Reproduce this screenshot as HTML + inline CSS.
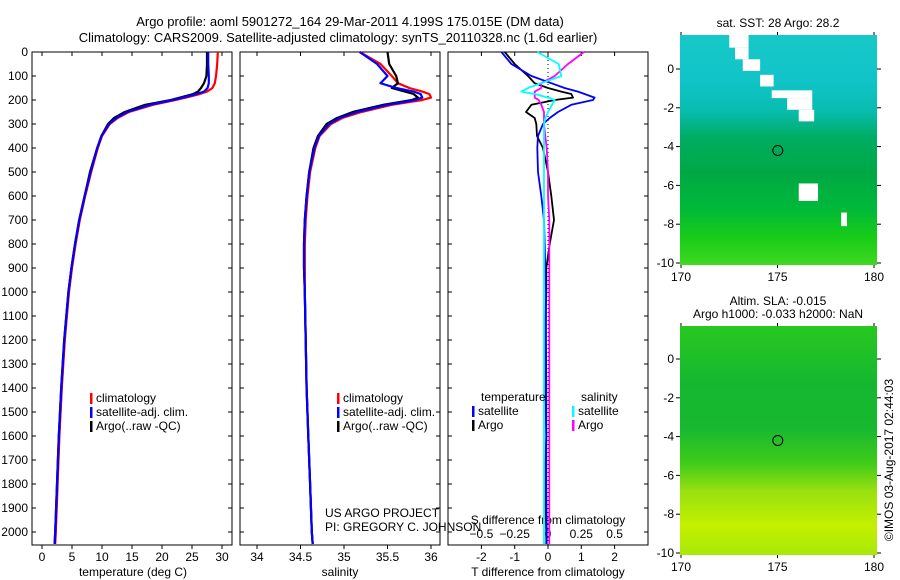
<!DOCTYPE html>
<html><head><meta charset="utf-8"><style>
body{margin:0;background:#fff}
svg{display:block;font-family:"Liberation Sans",sans-serif}
</style></head><body>
<svg id="c" width="900" height="580" xmlns="http://www.w3.org/2000/svg">
<defs>
<linearGradient id="sst" x1="0" y1="0" x2="0" y2="1">
<stop offset="0" stop-color="#18c8c8"/><stop offset="0.2" stop-color="#10c4c8"/><stop offset="0.33" stop-color="#08bcb0"/>
<stop offset="0.45" stop-color="#00ac60"/><stop offset="0.6" stop-color="#00a844"/><stop offset="0.75" stop-color="#00b83a"/><stop offset="0.88" stop-color="#18cc18"/><stop offset="1" stop-color="#40d820"/></linearGradient>
<linearGradient id="sla" x1="0" y1="0" x2="0" y2="1">
<stop offset="0" stop-color="#28c820"/><stop offset="0.25" stop-color="#14b830"/><stop offset="0.45" stop-color="#18b830"/><stop offset="0.6" stop-color="#40cc18"/>
<stop offset="0.72" stop-color="#98e010"/><stop offset="0.87" stop-color="#c4f000"/><stop offset="1" stop-color="#a8e808"/></linearGradient>
</defs>
<g font-size="13" text-anchor="middle" fill="#000">
<text x="350" y="26">Argo profile: aoml 5901272_164 29-Mar-2011 4.199S 175.015E (DM data)</text>
<text x="338" y="42">Climatology: CARS2009. Satellite-adjusted climatology: synTS_20110328.nc (1.6d earlier)</text>
</g>
<g id="plots"></g>
</svg>
<script>
// depth grid (m)
const depths=[0,50,100,130,150,165,175,190,200,220,250,275,300,350,400,500,600,700,800,900,1000,1200,1400,1600,1800,2000,2050];
// temperature (deg C)
const tempClim=[29.3,29.2,29.0,28.8,28.4,27.5,26.3,24,22.2,18.5,14.5,12.6,11.3,10.0,9.3,8.2,7.2,6.3,5.6,5.0,4.5,3.8,3.3,2.9,2.6,2.3,2.2];
const tempSat=[27.7,27.7,27.8,27.8,27.6,27.0,25.8,23.5,21.8,18.0,14.2,12.4,11.2,9.9,9.2,8.1,7.1,6.2,5.5,4.9,4.4,3.7,3.2,2.8,2.5,2.2,2.1];
const tempArgo=[27.5,27.5,27.4,27.0,26.5,26.0,25.2,23.0,21.5,17.2,13.8,12.0,11.0,9.9,9.2,8.0,7.1,6.2,5.5,4.9,4.4,3.7,3.2,2.8,2.5,2.2,2.1];
// salinity (PSU)
const salClim=[35.18,35.42,35.55,35.62,35.75,35.9,35.98,36.0,35.9,35.55,35.2,34.98,34.85,34.72,34.67,34.61,34.58,34.56,34.55,34.55,34.55,34.56,34.57,34.59,34.61,34.63,34.64];
const salSat=[35.18,35.38,35.5,35.42,35.6,35.8,35.88,35.9,35.82,35.5,35.15,34.95,34.83,34.71,34.66,34.6,34.57,34.55,34.54,34.54,34.55,34.56,34.57,34.59,34.61,34.63,34.64];
const salArgo=[35.5,35.52,35.6,35.62,35.55,35.7,35.8,35.85,35.78,35.45,35.1,34.92,34.8,34.7,34.65,34.6,34.57,34.55,34.54,34.54,34.55,34.56,34.57,34.59,34.61,34.63,34.64];
// differences from climatology
const tDiffSat=[-1.4,-1.1,-0.5,0.1,0.5,0.9,1.1,1.4,1.35,0.7,0.3,0.05,-0.15,-0.3,-0.32,-0.3,-0.2,-0.12,-0.1,-0.08,-0.06,-0.06,-0.05,-0.05,-0.05,-0.04,-0.04];
const tDiffArgo=[-1.3,-1.0,-0.6,-0.4,0.0,0.4,0.7,0.75,0.2,-0.5,-0.66,-0.4,-0.35,-0.33,-0.15,0.0,0.1,0.18,0.05,-0.05,-0.05,-0.1,-0.08,-0.05,-0.1,-0.05,-0.05];
const sDiffSat=[-0.08,0.08,0.1,-0.05,-0.15,-0.2,-0.1,0.0,0.05,0.03,0.0,-0.02,-0.03,-0.03,-0.03,-0.03,-0.03,-0.03,-0.03,-0.03,-0.03,-0.03,-0.03,-0.03,-0.03,-0.03,-0.03];
const sDiffArgo=[0.27,0.15,0.05,-0.05,-0.05,-0.1,-0.1,-0.1,-0.07,-0.05,-0.03,-0.03,-0.03,-0.02,-0.01,0.0,0.0,0.01,0.01,0.01,0.01,0.01,0.01,0.01,0.01,0.01,0.01];
// ticks
const depthTicks=[0,100,200,300,400,500,600,700,800,900,1000,1100,1200,1300,1400,1500,1600,1700,1800,1900,2000];
const tempTicks=[0,5,10,15,20,25,30];
const salTicks=[34,34.5,35,35.5,36];
const tdTicks=[-2,-1,0,1,2];
const sdTicks=[-0.5,-0.25,0,0.25,0.5];
const lonTicks=[170,175,180];
const latTicks=[0,-2,-4,-6,-8,-10];

const NS='http://www.w3.org/2000/svg';
const root=document.getElementById('plots');
function mk(tag,attrs,parent,text){const e=document.createElementNS(NS,tag);for(const k in attrs)e.setAttribute(k,attrs[k]);if(text!==undefined)e.textContent=text;(parent||root).appendChild(e);return e;}
const top0=52,pxPerM=0.24,bot=545;
const yD=d=>top0+d*pxPerM;
function lin(v0,p0,v1,p1){return v=>p0+(v-v0)*(p1-p0)/(v1-v0);}

function panel(x0,x1,name){
  const g=mk('g',{});
  
  
  const r=mk('rect',{x:x0,y:top0,width:x1-x0,height:bot-top0,fill:'none',stroke:'#000','stroke-width':1},g);
  
  
  return g;
}
function line(g,xs,fx,color,name,w){
  const pts=depths.map((d,i)=>fx(xs[i]).toFixed(1)+','+yD(d).toFixed(1)).join(' ');
  const p=mk('polyline',{points:pts,fill:'none',stroke:color,'stroke-width':w||2.2,'stroke-linejoin':'round'},g);
  
  
}
function xticks(g,ticks,fx,y,labels){
  ticks.forEach((t,i)=>{
    const x=fx(t);
    mk('line',{x1:x,y1:bot,x2:x,y2:bot+4,stroke:'#000'},g);
    mk('line',{x1:x,y1:top0,x2:x,y2:top0+4,stroke:'#000'},g);
    const tx=mk('text',{x:x,y:y,'font-size':12,'text-anchor':'middle'},g,labels?labels[i]:String(t));
    
    
  });
}
function legend(g,x,y,items){
  items.forEach((it,i)=>{
    mk('rect',{x:x,y:y+i*14-9,width:2.5,height:11,fill:it[1]},g);
    const t=mk('text',{x:x+6,y:y+i*14,'font-size':12},g,it[0]);
    
    
  });
}

// Panel 1 temperature
const g1=panel(32,232,'temperature-panel');
const fT=lin(0,42,30,222);
depthTicks.forEach(d=>{const y=yD(d);mk('line',{x1:32,y1:y,x2:36,y2:y,stroke:'#000'},g1);mk('line',{x1:228,y1:y,x2:232,y2:y,stroke:'#000'},g1);
 const t=mk('text',{x:28,y:y+4,'font-size':12,'text-anchor':'end'},g1,String(d));
 
 });
xticks(g1,tempTicks,fT,561);
const xl1=mk('text',{x:133,y:576,'font-size':12,'text-anchor':'middle'},g1,'temperature (deg C)');


line(g1,tempClim,fT,'#f00','temp-climatology-line');
line(g1,tempArgo,fT,'#000','temp-argo-line');
line(g1,tempSat,fT,'#00f','temp-satellite-line');
legend(g1,90,402,[['climatology','#f00'],['satellite-adj. clim.','#00f'],['Argo(..raw -QC)','#000']]);

// Panel 2 salinity
const g2=panel(240,440,'salinity-panel');
const fS=lin(34,257,36,431);
depthTicks.forEach(d=>{const y=yD(d);mk('line',{x1:240,y1:y,x2:244,y2:y,stroke:'#000'},g2);mk('line',{x1:436,y1:y,x2:440,y2:y,stroke:'#000'},g2);});
xticks(g2,salTicks,fS,561);
const xl2=mk('text',{x:340,y:576,'font-size':12,'text-anchor':'middle'},g2,'salinity');


line(g2,salClim,fS,'#f00','sal-climatology-line');
line(g2,salArgo,fS,'#000','sal-argo-line');
line(g2,salSat,fS,'#00f','sal-satellite-line');
legend(g2,337,402,[['climatology','#f00'],['satellite-adj. clim.','#00f'],['Argo(..raw -QC)','#000']]);
const pr1=mk('text',{x:325,y:517,'font-size':12},g2,'US ARGO PROJECT');


const pr2=mk('text',{x:325,y:531,'font-size':12},g2,'PI: GREGORY C. JOHNSON');



// Panel 3 differences
const g3=panel(448,648,'difference-panel');
const fTd=lin(0,548,1,581.3);
const fSd=lin(0,548,0.25,581.3);
depthTicks.forEach(d=>{const y=yD(d);mk('line',{x1:448,y1:y,x2:452,y2:y,stroke:'#000'},g3);mk('line',{x1:644,y1:y,x2:648,y2:y,stroke:'#000'},g3);});
mk('line',{x1:548,y1:top0,x2:548,y2:bot,stroke:'#000','stroke-dasharray':'1,3'},g3);
xticks(g3,tdTicks,fTd,561);
sdTicks.forEach(t=>{const tx=mk('text',{x:fSd(t),y:538,'font-size':12,'text-anchor':'middle'},g3,String(t).replace('-','\u2212'));
 
 });
const sdt=mk('text',{x:548,y:524,'font-size':12,'text-anchor':'middle'},g3,'S difference from climatology');


const xl3=mk('text',{x:548,y:576,'font-size':12,'text-anchor':'middle'},g3,'T difference from climatology');


line(g3,tDiffArgo,fTd,'#000','tdiff-argo-line',1.8);
line(g3,sDiffArgo,fSd,'#f0f','sdiff-argo-line',1.8);
line(g3,tDiffSat,fTd,'#00f','tdiff-satellite-line',1.8);
line(g3,sDiffSat,fSd,'#0ff','sdiff-satellite-line',1.8);
const lt=mk('text',{x:481,y:401,'font-size':12},g3,'temperature');

const ls=mk('text',{x:581,y:401,'font-size':12},g3,'salinity');

legend(g3,472,415,[['satellite','#00f'],['Argo','#000']]);
legend(g3,572,415,[['satellite','#0ff'],['Argo','#f0f']]);

// Maps
const fLon=lin(170,681,180,874);
function map(y0,lat0Y,grad,name,title){
  const g=mk('g',{});
  
  
  const fLat=lin(0,lat0Y,-10,lat0Y+194);
  const yb=fLat(-10)+2;
  const r=mk('rect',{x:680,y:y0,width:197,height:yb-y0,fill:'url(#'+grad+')'},g);
  
  
  latTicks.forEach(l=>{const y=fLat(l);mk('line',{x1:676,y1:y,x2:680,y2:y,stroke:'#000'},g);mk('line',{x1:877,y1:y,x2:881,y2:y,stroke:'#000'},g);
    const t=mk('text',{x:674,y:y+4,'font-size':12,'text-anchor':'end'},g,String(l));
    });
  lonTicks.forEach(l=>{const x=fLon(l);mk('line',{x1:x,y1:y0-3,x2:x,y2:y0,stroke:'#000'},g);mk('line',{x1:x,y1:yb,x2:x,y2:yb+3,stroke:'#000'},g);
    const t=mk('text',{x:x,y:yb+16,'font-size':12,'text-anchor':'middle'},g,String(l));
    });
  const c=mk('circle',{cx:fLon(175.015),cy:fLat(-4.199),r:5,fill:'none',stroke:'#000'},g);
  
  title.forEach((s,i)=>{const t=mk('text',{x:778,y:y0-8-(title.length-1-i)*13,'font-size':12,'text-anchor':'middle'},g,s);
    });
  return [g,fLat];
}
const [m1,fLat1]=map(35,69,'sst','sst-map',['sat. SST: 28 Argo: 28.2']);
// land / cloud mask patches (white)
[[172.5,1.75,173.5,1.1],[172.8,1.1,173.5,0.5],[173.2,0.5,174.1,-0.1],[174.1,-0.3,174.8,-0.9],[174.7,-1.1,176.8,-1.5],[175.5,-1.5,176.8,-2.1],[176.1,-2.1,176.9,-2.7],[176.1,-5.9,177.1,-6.8],[178.3,-7.4,178.6,-8.1]].forEach(b=>{
  const r=mk('rect',{x:fLon(b[0]),y:fLat1(b[1]),width:fLon(b[2])-fLon(b[0]),height:fLat1(b[3])-fLat1(b[1]),fill:'#fff'},m1);
  
});
const [m2]=map(326,359,'sla','sla-map',['Altim. SLA: -0.015','Argo h1000: -0.033 h2000: NaN']);
const cr=mk('text',{x:0,y:0,'font-size':12,'text-anchor':'middle',transform:'translate(893,460) rotate(-90)'});


cr.textContent='\u00a9IMOS 03-Aug-2017 02:44:03';
</script>
</body></html>
